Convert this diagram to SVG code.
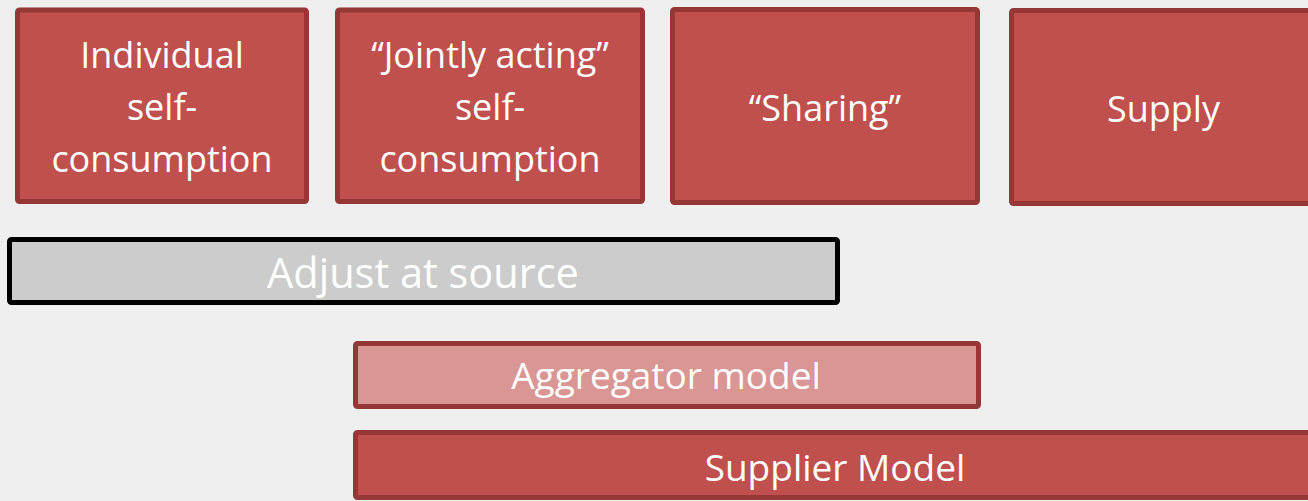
<svg xmlns="http://www.w3.org/2000/svg" width="1308" height="501" viewBox="0 0 1308 501">
  <style>
    .red { fill: #c0504d; stroke: #953735; stroke-width: 5; }
    .pink { fill: #d99694; stroke: #953735; stroke-width: 5; }
    .grey { fill: #cccccc; stroke: #000000; stroke-width: 5; }
    text { font-family: "Open Sans", "Liberation Sans", sans-serif; fill: #ffffff; text-anchor: middle; }
    .t36 { font-size: 36px; }
    .t37 { font-size: 37px; }
    .t41 { font-size: 41.5px; }
  </style>
  <rect x="0" y="0" width="1308" height="501" fill="#efefef"/>

  <!-- top row of categories -->
  <g id="individual">
    <rect class="red" x="17.5" y="10" width="289" height="191.5" rx="2"/>
    <text class="t36" x="162" y="68">Individual</text>
    <text class="t36" x="162" y="120">self-</text>
    <text class="t36" x="162" y="172">consumption</text>
  </g>
  <g id="jointly">
    <rect class="red" x="337.5" y="10" width="305" height="191.5" rx="2"/>
    <text class="t36" x="490" y="68">“Jointly acting”</text>
    <text class="t36" x="490" y="120">self-</text>
    <text class="t36" x="490" y="172">consumption</text>
  </g>
  <g id="sharing">
    <rect class="red" x="672.5" y="9.5" width="305" height="193" rx="2"/>
    <text class="t36" x="825" y="121">“Sharing”</text>
  </g>
  <g id="supply">
    <rect class="red" x="1011.5" y="10.5" width="320" height="193" rx="2"/>
    <text class="t36" x="1163.5" y="122">Supply</text>
  </g>

  <!-- model bars -->
  <g id="adjust">
    <rect class="grey" x="9.5" y="239.5" width="828" height="63" rx="2"/>
    <text class="t41" x="423" y="288">Adjust at source</text>
  </g>
  <g id="aggregator">
    <rect class="pink" x="355.5" y="343.5" width="623" height="63" rx="2"/>
    <text class="t37" x="666" y="389">Aggregator model</text>
  </g>
  <g id="supplier">
    <rect class="red" x="355.5" y="432.5" width="980" height="65" rx="2"/>
    <text class="t37" x="835" y="481">Supplier Model</text>
  </g>

  <g id="connectors"/>
</svg>
